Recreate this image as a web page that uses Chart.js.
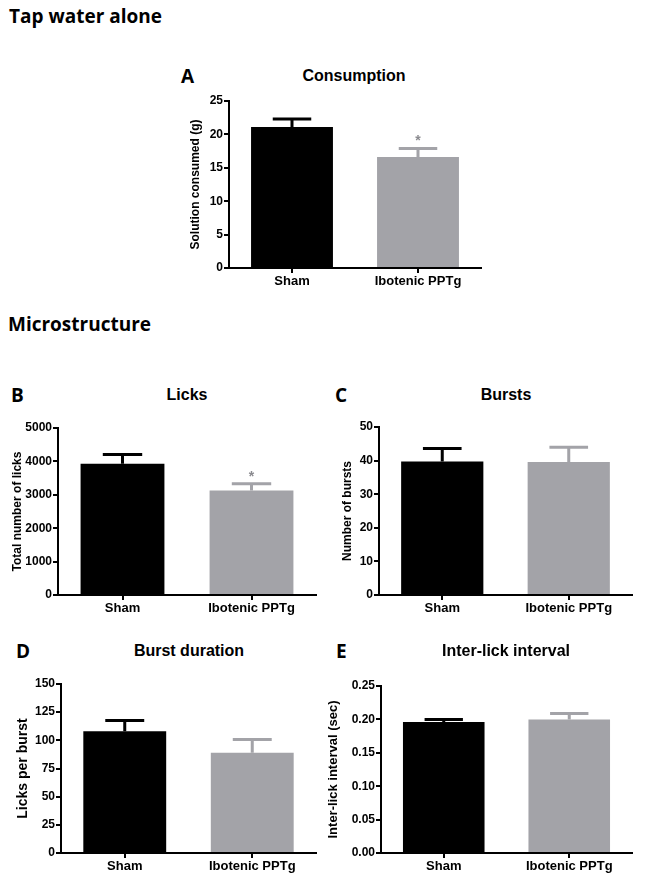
<!DOCTYPE html>
<html>
<head>
<meta charset="utf-8">
<script src="https://cdn.jsdelivr.net/npm/chart.js@4.4.0/dist/chart.umd.min.js"></script>
<style>
  body { margin: 0; background: #fff; }
  #page { position: relative; width: 646px; height: 892px; overflow: hidden; background: #fff; }
  canvas { position: absolute; }
  .txt { position: absolute; white-space: nowrap; line-height: 1; color: #000; }
  .head { font-family: "Open Sans", sans-serif; font-weight: bold; font-size: 19px; }
  .letter { font-family: "Open Sans", sans-serif; font-weight: bold; font-size: 19px; transform: translateY(-50%); }
  .ttl { font-family: Arial, "Liberation Sans", sans-serif; font-weight: bold; font-size: 16px; transform: translate(-50%, -50%); }
</style>
</head>
<body>
<div id="page"></div>
<script>
// data
var categories = ["Sham", "Ibotenic PPTg"];

var consumptionMean = [21.1, 16.6];
var consumptionSem = [1.2, 1.3];
var consumptionStars = ["", "*"];

var licksMean = [3930, 3130];
var licksSem = [280, 200];
var licksStars = ["", "*"];

var burstsMean = [39.7, 39.6];
var burstsSem = [3.9, 4.4];

var durationMean = [108, 89];
var durationSem = [9.5, 11.8];

var iliMean = [0.196, 0.200];
var iliSem = [0.004, 0.009];

var barColors = ["#000000", "#a3a3a8"];

// panels: axis ranges + where each sits on the page
var panels = [
  { letter: "A", title: "Consumption", yTitle: "Solution consumed (g)", mean: consumptionMean, sem: consumptionSem, stars: consumptionStars,
    max: 25, step: 5, dec: 0, area: [229, 101, 481, 268], yw: 45, yTitleSize: 12, letterXY: [181, 76], titleXY: [354, 76] },
  { letter: "B", title: "Licks", yTitle: "Total number of licks", mean: licksMean, sem: licksSem, stars: licksStars,
    max: 5000, step: 1000, dec: 0, area: [58, 428, 316, 595], yw: 52, yTitleSize: 12, letterXY: [11, 395], titleXY: [187, 395] },
  { letter: "C", title: "Bursts", yTitle: "Number of bursts", mean: burstsMean, sem: burstsSem, stars: ["", ""],
    max: 50, step: 10, dec: 0, area: [379, 427, 632, 595], yw: 43, yTitleSize: 12, letterXY: [335, 395], titleXY: [506, 395] },
  { letter: "D", title: "Burst duration", yTitle: "Licks per burst", mean: durationMean, sem: durationSem, stars: ["", ""],
    max: 150, step: 25, dec: 0, area: [61, 684, 316, 853], yw: 50, yTitleSize: 14, letterXY: [16, 651], titleXY: [189, 651] },
  { letter: "E", title: "Inter-lick interval", yTitle: "Inter-lick interval (sec)", mean: iliMean, sem: iliSem, stars: ["", ""],
    max: 0.25, step: 0.05, dec: 2, area: [381, 686, 632, 853], yw: 59, yTitleSize: 13, letterXY: [336, 651], titleXY: [506, 651] }
];

Chart.defaults.font.family = 'Arial, "Liberation Sans", sans-serif';
Chart.defaults.color = "#000";

var page = document.getElementById("page");

function addText(cls, text, x, y) {
  var d = document.createElement("div");
  d.className = "txt " + cls;
  d.textContent = text;
  d.style.left = x + "px";
  d.style.top = y + "px";
  page.appendChild(d);
}

addText("head", "Tap water alone", 9, 7);
addText("head", "Microstructure", 8, 315);

// error bars (upper half only) + significance stars
var errorBars = {
  id: "errorBars",
  afterDatasetsDraw: function (chart, args, opts) {
    var ctx = chart.ctx;
    var y = chart.scales.y;
    var ds = chart.data.datasets[0];
    chart.getDatasetMeta(0).data.forEach(function (bar, i) {
      var top = y.getPixelForValue(ds.data[i] + opts.sem[i]);
      var half = bar.width * 0.235;
      ctx.save();
      ctx.strokeStyle = ds.backgroundColor[i];
      ctx.lineWidth = 3;
      ctx.beginPath();
      ctx.moveTo(bar.x, bar.y);
      ctx.lineTo(bar.x, top);
      ctx.moveTo(bar.x - half, top);
      ctx.lineTo(bar.x + half, top);
      ctx.stroke();
      if (opts.stars[i]) {
        ctx.fillStyle = "#8a8a8f";
        ctx.font = "bold 14px Arial, 'Liberation Sans', sans-serif";
        ctx.textAlign = "center";
        ctx.textBaseline = "alphabetic";
        ctx.fillText(opts.stars[i], bar.x, top - 3);
      }
      ctx.restore();
    });
  }
};

var padTop = 12, padRight = 12, xh = 30;

panels.forEach(function (p) {
  var a = p.area;
  var c = document.createElement("canvas");
  var w = a[2] - a[0] + p.yw + padRight;
  var h = a[3] - a[1] + padTop + xh;
  c.width = w;
  c.height = h;
  c.style.left = (a[0] - p.yw) + "px";
  c.style.top = (a[1] - padTop) + "px";
  c.style.width = w + "px";
  c.style.height = h + "px";
  page.appendChild(c);

  addText("letter", p.letter, p.letterXY[0], p.letterXY[1]);
  addText("ttl", p.title, p.titleXY[0], p.titleXY[1]);

  new Chart(c, {
    type: "bar",
    data: {
      labels: categories,
      datasets: [{
        data: p.mean,
        backgroundColor: barColors,
        borderWidth: 0,
        categoryPercentage: 1,
        barPercentage: 0.65
      }]
    },
    options: {
      responsive: false,
      animation: false,
      layout: { padding: { top: padTop, right: padRight, left: 0, bottom: 0 } },
      plugins: {
        legend: { display: false },
        tooltip: { enabled: false },
        errorBars: { sem: p.sem, stars: p.stars }
      },
      scales: {
        x: {
          grid: { display: true, drawOnChartArea: false, offset: false, tickLength: 5, color: "#000", lineWidth: 2 },
          border: { color: "#000", width: 2 },
          ticks: { font: { size: 13, weight: "bold" }, color: "#000", padding: 1, maxRotation: 0 },
          afterFit: function (s) { s.height = xh; }
        },
        y: {
          min: 0,
          max: p.max,
          grid: { display: true, drawOnChartArea: false, tickLength: 5, color: "#000", lineWidth: 2 },
          border: { color: "#000", width: 2 },
          ticks: {
            stepSize: p.step,
            font: { size: 12, weight: "bold" },
            color: "#000",
            padding: 1,
            callback: function (v) { return Number(v).toFixed(p.dec); }
          },
          title: { display: true, text: p.yTitle, font: { size: p.yTitleSize, weight: "bold" }, color: "#000", padding: 4 },
          afterFit: function (s) { s.width = p.yw; }
        }
      }
    },
    plugins: [errorBars]
  });
});
</script>
</body>
</html>
